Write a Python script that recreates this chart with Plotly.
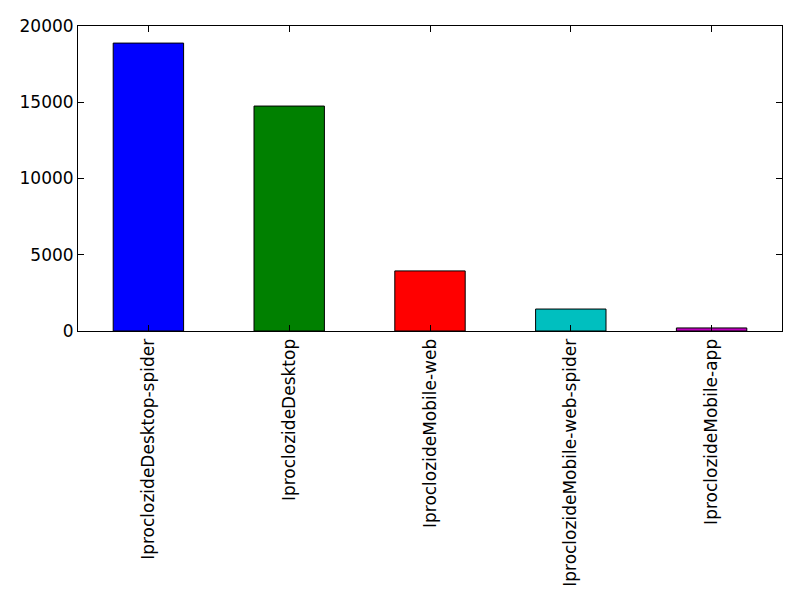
import plotly.graph_objects as go

categories = ["IproclozideDesktop-spider", "IproclozideDesktop", "IproclozideMobile-web",
              "IproclozideMobile-web-spider", "IproclozideMobile-app"]
values = [18880, 14750, 3940, 1440, 200]
colors = ["#0000FF", "#008000", "#FF0000", "#00BFBF", "#BF00BF"]
y_ticks = [0, 5000, 10000, 15000, 20000]

fig = go.Figure(go.Bar(
    x=categories, y=values, width=0.5,
    marker=dict(color=colors, line=dict(color="black", width=1)),
))

font = dict(family="DejaVu Sans", size=17, color="black")
fig.update_layout(
    width=800, height=600,
    margin=dict(l=78, r=18, t=26, b=269),
    plot_bgcolor="white", paper_bgcolor="white",
    showlegend=False, font=font, bargap=0.5,
)
fig.update_xaxes(
    range=[-0.5, 4.5], tickangle=-90, ticks="inside", ticklen=6, tickcolor="black",
    showline=True, linecolor="black", linewidth=1, mirror="allticks",
    showgrid=False, tickfont=font,
)
fig.update_yaxes(
    range=[0, 20000], tickvals=y_ticks, tickformat="d", ticks="inside", ticklen=6,
    tickcolor="black", showline=True, linecolor="black", linewidth=1, mirror="allticks",
    showgrid=False, zeroline=False, tickfont=font,
)
fig.write_html("out.html")
